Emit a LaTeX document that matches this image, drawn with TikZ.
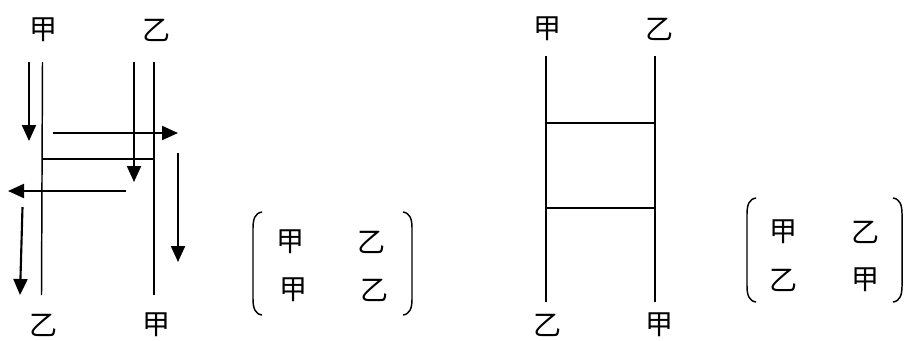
\documentclass[tikz,border=0pt]{standalone}
\usepackage{fontspec}
\newfontfamily\cjk{Noto Sans CJK SC}
\usetikzlibrary{arrows.meta}
\tikzset{
	tri/.tip={Triangle[length=12pt,width=10.5pt]},
	word/.style={font=\cjk\fontsize{21}{24}\selectfont, inner sep=0pt},
	rail/.style={line width=1.1pt},
	move/.style={line width=1.6pt, -tri},
}

\begin{document}
\begin{tikzpicture}[x=0.75pt, y=-0.75pt]
	% pixel grid of the reference, y downwards
	\useasboundingbox (0,0) rectangle (905,340);
	
	% Left ladder: names
	\node[word] (la) at (43,30) {甲};
	\node[word] (lb) at (156,30) {乙};
	\node[word] (lc) at (43,325) {乙};
	\node[word] (ld) at (156,325) {甲};
	
	% Left ladder: rails and rung
	\coordinate (lat) at (42.5,62);
	\coordinate (lab) at (41.5,295);
	\coordinate (lbt) at (154,62);
	\coordinate (lbb) at (154,295);
	\draw[rail] (lat) -- (lab);
	\draw[rail] (lbt) -- (lbb);
	\draw[rail] (42.2,159) -- (154,159);
	
	% Moves
	\coordinate (m1s) at (29,62);   \coordinate (m1e) at (29,141);
	\coordinate (m2s) at (53,133);  \coordinate (m2e) at (178,133);
	\coordinate (m3s) at (134,62);  \coordinate (m3e) at (134,182);
	\coordinate (m4s) at (126,191); \coordinate (m4e) at (8,191);
	\coordinate (m5s) at (178,153); \coordinate (m5e) at (178,262);
	\coordinate (m6s) at (22.5,207); \coordinate (m6e) at (20,295);
	\draw[move] (m1s) -- (m1e);
	\draw[move] (m2s) -- (m2e);
	\draw[move] (m3s) -- (m3e);
	\draw[move] (m4s) -- (m4e);
	\draw[move] (m5s) -- (m5e);
	\draw[move] (m6s) -- (m6e);
	
	% Left result
	\draw[rail] (262,212) .. controls (255,213) and (253,219) .. (253,228) -- (253,299) .. controls (253,308) and (255,314) .. (262,315);
	\draw[rail] (403,212) .. controls (410,213) and (412,219) .. (412,228) -- (412,299) .. controls (412,308) and (410,314) .. (403,315);
	\node[word] (p11) at (290,242) {甲};
	\node[word] (p12) at (371,242) {乙};
	\node[word] (p21) at (293,290) {甲};
	\node[word] (p22) at (374,290) {乙};
	
	% Right ladder
	\node[word] (ra) at (547,29) {甲};
	\node[word] (rb) at (659,29) {乙};
	\node[word] (rc) at (547,325) {乙};
	\node[word] (rd) at (659,325) {甲};
	\coordinate (rat) at (546,56);
	\coordinate (rab) at (546,302);
	\coordinate (rbt) at (655,56);
	\coordinate (rbb) at (655,302);
	\draw[rail] (rat) -- (rab);
	\draw[rail] (rbt) -- (rbb);
	\draw[rail] (546,123) -- (655,123);
	\draw[rail] (546,208) -- (655,208);
	
	% Right result
	\draw[rail] (756,198) .. controls (749,199) and (747,205) .. (747,214) -- (747,286) .. controls (747,295) and (749,301) .. (756,302);
	\draw[rail] (893,198) .. controls (900,199) and (902,205) .. (902,214) -- (902,286) .. controls (902,295) and (900,301) .. (893,302);
	\node[word] (q11) at (783,232) {甲};
	\node[word] (q12) at (865,232) {乙};
	\node[word] (q21) at (783,280) {乙};
	\node[word] (q22) at (865,280) {甲};
\end{tikzpicture}
\end{document}
